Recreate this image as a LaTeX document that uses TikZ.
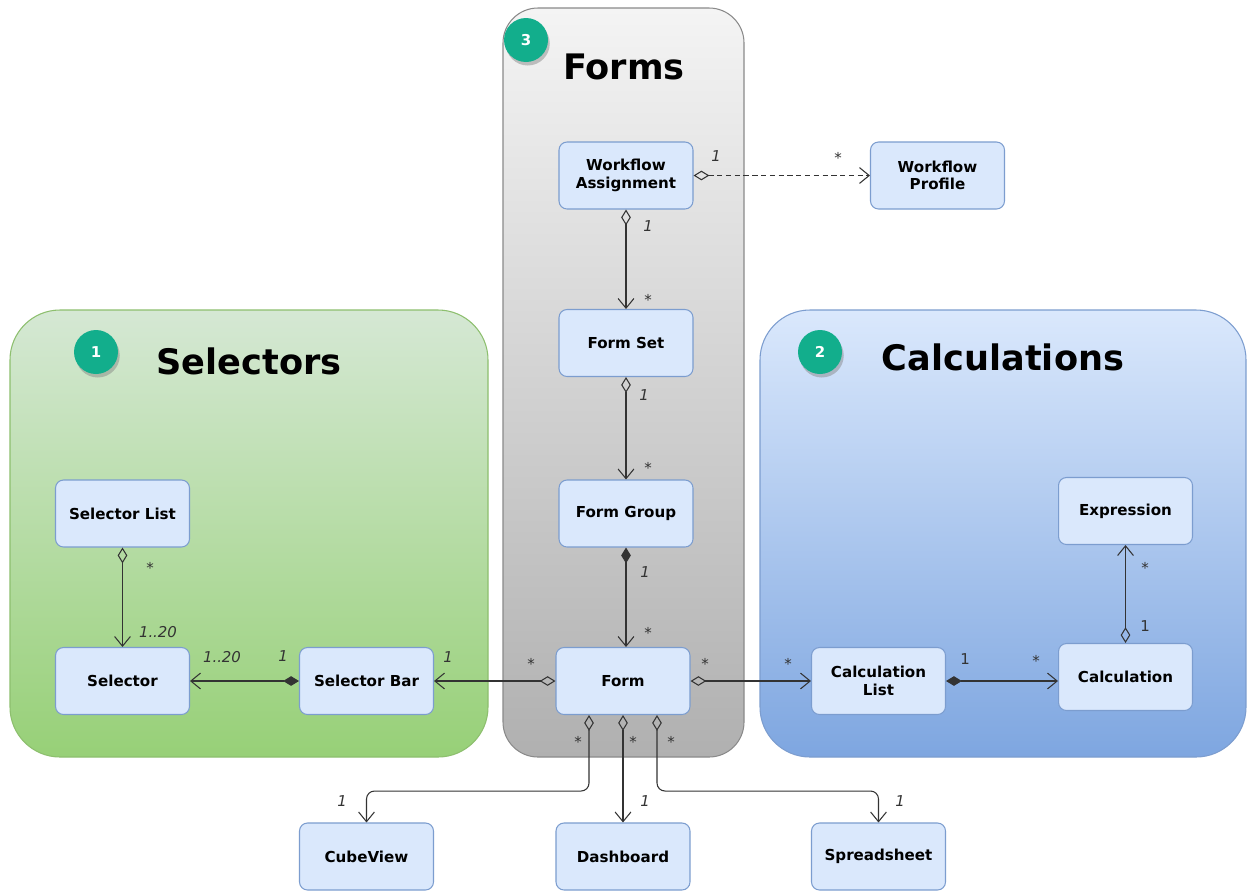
\documentclass[tikz,border=0pt]{standalone}
\usepackage{fontspec}
\setmainfont{DejaVu Sans}
\usetikzlibrary{arrows.meta,shadows}
\definecolor{boxfill}{HTML}{DAE8FC}
\definecolor{boxborder}{HTML}{7C9DCF}
\definecolor{linec}{HTML}{333333}
\definecolor{teal}{HTML}{12AE8C}
\definecolor{gtop}{HTML}{D5E8D4}
\definecolor{gbot}{HTML}{97D077}
\definecolor{gbord}{HTML}{8DBF6E}
\definecolor{ftop}{HTML}{F4F4F4}
\definecolor{fbot}{HTML}{B0B0B0}
\definecolor{fbord}{HTML}{8A8A8A}
\definecolor{btop}{HTML}{DAE8FC}
\definecolor{bbot}{HTML}{7EA6E0}
\definecolor{bbord}{HTML}{7C9DCF}
\tikzset{
  box/.style={draw=boxborder, fill=boxfill, rounded corners=0.16cm, minimum width=2.68cm, minimum height=1.34cm, align=center, font=\bfseries\fontsize{8.6}{10}\selectfont, line width=0.6pt, inner sep=1pt},
  conn/.style={draw=linec, line width=0.6pt},
  agg/.style={conn, {Diamond[open,length=9pt,width=5.5pt]}-{Straight Barb[length=5.5pt,width=9pt]}},
  comp/.style={conn, {Diamond[length=9pt,width=5.5pt]}-{Straight Barb[length=5.5pt,width=9pt]}},
  lbl/.style={font=\itshape\fontsize{8.5}{10}\selectfont, text=linec, inner sep=0},
  ulbl/.style={font=\fontsize{8.5}{10}\selectfont, text=linec, inner sep=0},
  badge/.style={circle, fill=teal, minimum size=0.88cm, inner sep=0, text=white, font=\bfseries\fontsize{8.5}{10}\selectfont, drop shadow={shadow xshift=1pt, shadow yshift=-2pt, opacity=0.45}},
  title/.style={font=\bfseries\fontsize{20}{24}\selectfont, inner sep=0}
}
\begin{document}
\begin{tikzpicture}[x=0.02cm, y=-0.02cm]
\useasboundingbox (0,0) rectangle (1247,890);
\fill[white] (0,0) rectangle (1247,890);
% panels
\draw[gbord, line width=0.6pt, rounded corners=1cm, top color=gtop, bottom color=gbot] (10,310) rectangle (488,757);
\draw[fbord, line width=0.6pt, rounded corners=0.7cm, top color=ftop, bottom color=fbot] (503,8) rectangle (744,757);
\draw[bbord, line width=0.6pt, rounded corners=1cm, top color=btop, bottom color=bbot] (760,310) rectangle (1246,757);
% badges and titles
\node[badge] (b1) at (96,352) {1};
\node[badge] (b2) at (820,352) {2};
\node[badge] (b3) at (526,40) {3};
\node[title] (t1) at (249,361) {Selectors};
\node[title] (t2) at (1003,357) {Calculations};
\node[title] (t3) at (624,67) {Forms};
% boxes
\node[box] (WA) at (626,175.5) {Workflow\\Assignment};
\node[box] (WP) at (937.5,175.5) {Workflow\\Profile};
\node[box] (FS) at (626,343) {Form Set};
\node[box] (FG) at (626,513.5) {Form Group};
\node[box] (F) at (623,681) {Form};
\node[box] (SL) at (122.5,513.5) {Selector List};
\node[box] (S) at (122.5,681) {Selector};
\node[box] (SB) at (366.5,681) {Selector Bar};
\node[box] (CL) at (878.5,681) {Calculation\\List};
\node[box] (C) at (1125.5,677) {Calculation};
\node[box] (E) at (1125.5,511) {Expression};
\node[box] (CV) at (366.5,856.5) {CubeView};
\node[box] (DB) at (623,856.5) {Dashboard};
\node[box] (SS) at (878.5,856.5) {Spreadsheet};
% connectors
\draw[agg, dashed, dash pattern=on 3pt off 2pt] (WA.east) -- (WP.west);
\draw[agg] (WA.south) -- (FS.north);
\draw[agg] (FS.south) -- (FG.north);
\draw[comp] (FG.south) -- (FG.south |- F.north);
\draw[agg] (F.west) -- (SB.east);
\draw[comp] (SB.west) -- (S.east);
\draw[agg] (SL.south) -- (S.north);
\draw[agg] (F.east) -- (CL.west);
\draw[comp] (CL.east) -- (CL.east -| C.west);
\draw[agg] (C.north) -- (E.south);
\draw[agg, rounded corners=0.16cm] ([xshift=-0.68cm]F.south) -- ++(0,76) -| (CV.north);
\draw[agg] (F.south) -- (DB.north);
\draw[agg, rounded corners=0.16cm] ([xshift=0.68cm]F.south) -- ++(0,76) -| (SS.north);
% multiplicities
\node[lbl] at (716,156) {1};
\node[ulbl] at (838,158) {*};
\node[lbl] at (648,226) {1};
\node[ulbl] at (648,300) {*};
\node[lbl] at (644,395) {1};
\node[ulbl] at (648,468) {*};
\node[lbl] at (645,572) {1};
\node[ulbl] at (648,633) {*};
\node[ulbl] at (531,664) {*};
\node[lbl] at (448,657) {1};
\node[lbl] at (222,657) {1..20};
\node[lbl] at (283,656) {1};
\node[ulbl] at (150,568) {*};
\node[lbl] at (158,632) {1..20};
\node[ulbl] at (705,664) {*};
\node[ulbl] at (788,664) {*};
\node[ulbl] at (965,659) {1};
\node[ulbl] at (1036,661) {*};
\node[ulbl] at (1145,626) {1};
\node[ulbl] at (1145,568) {*};
\node[ulbl] at (578,742) {*};
\node[ulbl] at (633,742) {*};
\node[ulbl] at (671,742) {*};
\node[lbl] at (342,801) {1};
\node[lbl] at (645,801) {1};
\node[lbl] at (900,801) {1};
\end{tikzpicture}
\end{document}
